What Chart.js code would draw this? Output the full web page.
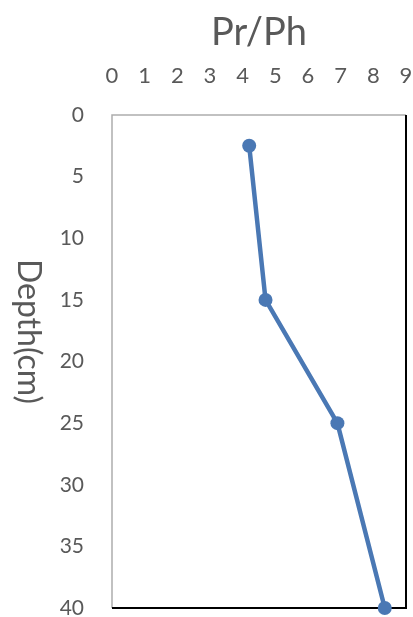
<!DOCTYPE html>
<html>
<head>
<meta charset="utf-8">
<script src="https://cdn.jsdelivr.net/npm/chart.js@4/dist/chart.umd.min.js"></script>
<style>
  html, body { margin: 0; padding: 0; background: #ffffff; }
  #wrap { width: 413px; height: 617px; }
</style>
</head>
<body>
<div id="wrap"><canvas id="c" width="413" height="617"></canvas></div>
<script>
// Pr/Ph ratio measured at each sampling depth
const depths = [2.5, 15, 25, 40];
const prPh = [4.2, 4.7, 6.9, 8.35];
const xTicks = [0, 1, 2, 3, 4, 5, 6, 7, 8, 9];
const yTicks = [0, 5, 10, 15, 20, 25, 30, 35, 40];

const chartTitle = 'Pr/Ph';
const yTitle = 'Depth(cm)';

const textColor = '#595959';
const fontFamily = 'Lato, "Liberation Sans", sans-serif';
const lineColor = '#4a78b4';

const points = depths.map((d, i) => ({ x: prPh[i], y: d }));

// Frame around the plot: grey axis lines on left/top, black on right/bottom
const framePlugin = {
  id: 'frame',
  beforeDatasetsDraw(chart) {
    const { ctx, chartArea: a } = chart;
    ctx.save();
    ctx.lineWidth = 1.5;
    ctx.strokeStyle = '#adadad';
    ctx.beginPath();
    ctx.moveTo(a.left, a.bottom);
    ctx.lineTo(a.left, a.top);
    ctx.lineTo(a.right, a.top);
    ctx.stroke();
    ctx.lineWidth = 2;
    ctx.strokeStyle = '#000000';
    ctx.beginPath();
    ctx.moveTo(a.right, a.top);
    ctx.lineTo(a.right, a.bottom);
    ctx.lineTo(a.left, a.bottom);
    ctx.stroke();
    ctx.restore();
  }
};

// Chart title centred over the plot area, and the vertical axis title
// reading top to bottom
const titlesPlugin = {
  id: 'titles',
  afterDraw(chart) {
    const { ctx, chartArea: a } = chart;
    ctx.save();
    ctx.fillStyle = textColor;
    ctx.font = '38px ' + fontFamily;
    ctx.textAlign = 'center';
    ctx.textBaseline = 'alphabetic';
    ctx.fillText(chartTitle, (a.left + a.right) / 2, 45);

    ctx.translate(18, (a.top + a.bottom) / 2 - 30);
    ctx.rotate(Math.PI / 2);
    ctx.font = '32px ' + fontFamily;
    ctx.fillText(yTitle, 0, 0);
    ctx.restore();
  }
};

new Chart(document.getElementById('c'), {
  type: 'line',
  data: {
    datasets: [{
      data: points,
      borderColor: lineColor,
      backgroundColor: lineColor,
      borderWidth: 4.5,
      pointRadius: 7,
      pointHoverRadius: 7,
      pointBorderWidth: 0,
      tension: 0,
      clip: false
    }]
  },
  options: {
    responsive: false,
    animation: false,
    events: [],
    layout: { padding: { left: 0, right: 7, top: 0, bottom: 9 } },
    plugins: {
      legend: { display: false },
      tooltip: { enabled: false },
      title: { display: false }
    },
    scales: {
      x: {
        type: 'linear',
        position: 'top',
        min: 0,
        max: 9,
        afterBuildTicks(scale) { scale.ticks = xTicks.map(v => ({ value: v })); },
        afterFit(scale) {
          scale.height = 115;
          scale.paddingLeft = 0;
          scale.paddingRight = 0;
        },
        grid: { display: false, drawTicks: false },
        border: { display: false },
        ticks: {
          color: textColor,
          font: { family: fontFamily, size: 22 },
          padding: 26,
          maxRotation: 0,
          autoSkip: false
        }
      },
      y: {
        type: 'linear',
        reverse: true,
        min: 0,
        max: 40,
        afterBuildTicks(scale) { scale.ticks = yTicks.map(v => ({ value: v })); },
        afterFit(scale) {
          scale.width = 112;
          scale.paddingTop = 0;
          scale.paddingBottom = 0;
        },
        grid: { display: false, drawTicks: false },
        border: { display: false },
        ticks: {
          color: textColor,
          font: { family: fontFamily, size: 21 },
          padding: 28,
          autoSkip: false
        }
      }
    }
  },
  plugins: [framePlugin, titlesPlugin]
});
</script>
</body>
</html>
